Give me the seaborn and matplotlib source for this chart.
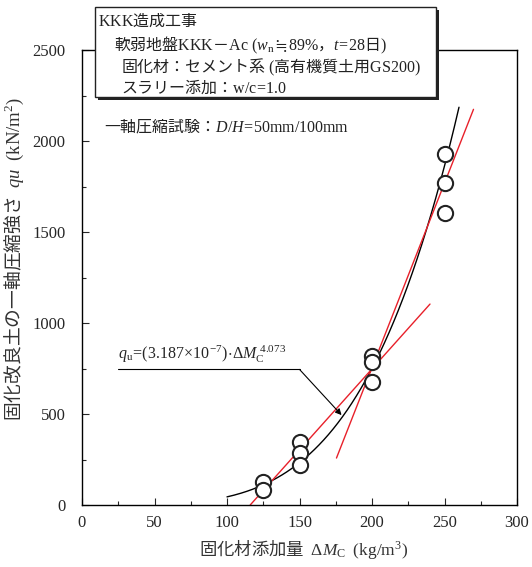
import numpy as np
import pandas as pd
import seaborn as sns
import matplotlib.pyplot as plt
from matplotlib.ticker import MultipleLocator
from matplotlib.patches import Rectangle

# measured points
dmc = [125, 125, 150, 150, 150, 200, 200, 200, 250, 250, 250]
qu = [128, 82, 348, 284, 220, 819, 784, 678, 1929, 1768, 1606]

# fitted power law printed on the chart
coef_a = 3.187e-7
coef_b = 4.073
fit_range = (100, 260)

# red guide lines (end points)
red1_x = [116, 240]
red1_y = [0, 1104]
red2_x = [175.5, 270]
red2_y = [258, 2174]

sns.set_style('ticks')
plt.rcParams['font.family'] = ['Liberation Serif', 'Noto Sans CJK JP']
plt.rcParams['mathtext.fontset'] = 'custom'
plt.rcParams['mathtext.rm'] = 'Liberation Serif'
plt.rcParams['mathtext.it'] = 'Liberation Serif:italic'
plt.rcParams['mathtext.fallback'] = 'stix'
plt.rcParams['xtick.direction'] = 'in'
plt.rcParams['ytick.direction'] = 'in'

jp = 'Noto Sans CJK JP'

fig = plt.figure(figsize=(5.32, 5.67), dpi=100)
ax = fig.add_axes([82 / 532, 1 - 505 / 567, 435 / 532, 455 / 567])

xs = np.linspace(fit_range[0], fit_range[1], 200)
fit = pd.DataFrame({'x': xs, 'y': coef_a * xs ** coef_b})
sns.lineplot(data=fit, x='x', y='y', ax=ax, color='black', lw=1, zorder=2)
sns.lineplot(x=red1_x, y=red1_y, ax=ax, color='#e8202a', lw=1, zorder=2)
sns.lineplot(x=red2_x, y=red2_y, ax=ax, color='#e8202a', lw=1, zorder=2)
sns.scatterplot(x=dmc, y=qu, ax=ax, s=120, marker='o', facecolor='white',
                edgecolor='#222222', linewidth=1.5, zorder=3)

ax.set_xlim(0, 300)
ax.set_ylim(0, 2500)
ax.xaxis.set_major_locator(MultipleLocator(50))
ax.xaxis.set_minor_locator(MultipleLocator(25))
ax.yaxis.set_major_locator(MultipleLocator(500))
ax.yaxis.set_minor_locator(MultipleLocator(250))
ax.tick_params(which='major', length=5, width=0.8, labelsize=12)
ax.tick_params(axis='y', which='major', pad=12)
ax.tick_params(axis='x', which='major', pad=7)
ax.tick_params(which='minor', length=3, width=0.8)
for sp in ax.spines.values():
    sp.set_linewidth(1)
    sp.set_color('black')

ax.set_xlabel('固化材添加量  $\\Delta M_\\mathrm{C}$  $\\mathrm{(kg/m^3)}$',
              fontsize=12.5, family=jp, color='#333333')
ax.xaxis.set_label_coords(0.51, -0.07)
ax.set_ylabel('固化改良土の一軸圧縮強さ  $qu$  $\\mathrm{(kN/m^2)}$',
              fontsize=13.5, family=jp, color='#333333')
ax.yaxis.set_label_coords(-0.128, 0.54)

# fit formula with leader
ax.plot([25, 150], [745, 745], color='black', lw=0.8)
ax.annotate('', xy=(179, 494), xytext=(150, 745),
            arrowprops=dict(arrowstyle='-|>', color='black', lw=0.8,
                            mutation_scale=9, shrinkA=0, shrinkB=0))
ax.text(25, 768, '$q_\\mathrm{u}\\!=\\!\\mathrm{(3.187\\!\\times\\!10^{-7})\\!\\cdot\\!}'
        '\\Delta M_\\mathrm{C}^{\\ 4.073}$', fontsize=11.5, va='bottom', ha='left')

# header box with shadow
bx0, bx1 = 95 / 532, 436 / 532
by0, by1 = 1 - 97 / 567, 1 - 7 / 567
fig.patches.append(Rectangle((bx0 + 3 / 532, by0 - 3 / 567), bx1 - bx0, by1 - by0,
                             transform=fig.transFigure, facecolor='#222222',
                             edgecolor='none', zorder=5))
fig.patches.append(Rectangle((bx0, by0), bx1 - bx0, by1 - by0,
                             transform=fig.transFigure, facecolor='white',
                             edgecolor='#222222', lw=1, zorder=6))

lines = [
    (98, 21, '$\\mathrm{KKK}$造成工事'),
    (114, 45, '軟弱地盤$\\mathrm{KKK}$－$\\mathrm{Ac\\ (}w_\\mathrm{n}\\fallingdotseq'
              '\\mathrm{89\\%}$，$t\\!=\\!\\mathrm{28}$日$\\mathrm{)}$'),
    (121, 67, '固化材：セメント系$\\mathrm{\\ (}$高有機質土用$\\mathrm{GS200)}$'),
    (121, 87, 'スラリー添加：$\\mathrm{w/c\\!=\\!1.0}$'),
    (104, 127, '一軸圧縮試験：$D/H\\!=\\!\\mathrm{50mm/100mm}$'),
]
for px, py, s in lines:
    fig.text(px / 532, 1 - py / 567, s, family=jp, fontsize=11.5, color='#222222',
             ha='left', va='center', zorder=7)

fig.savefig('out.png', dpi=100)
